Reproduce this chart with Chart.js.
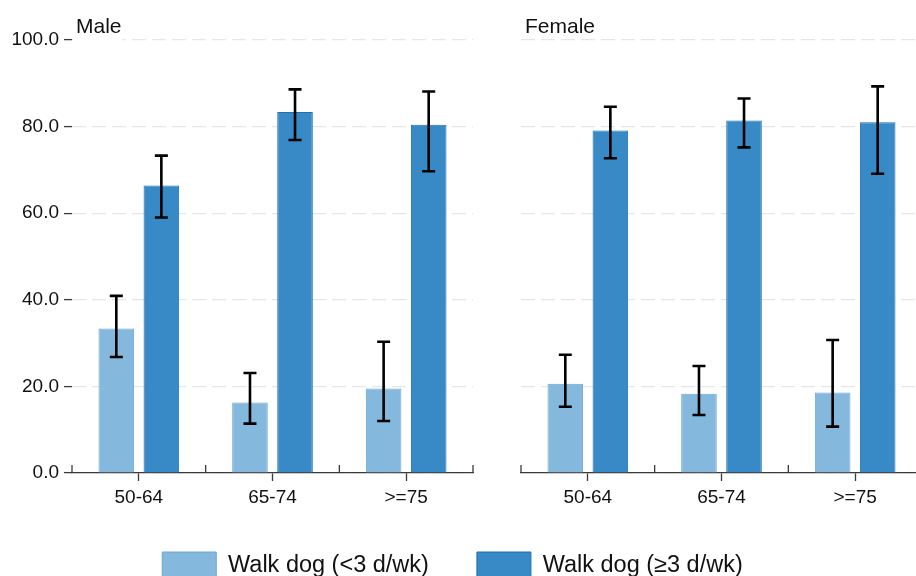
<!DOCTYPE html>
<html>
<head>
<meta charset="utf-8">
<title>Dog walking by age group and sex</title>
<script src="https://cdn.jsdelivr.net/npm/chart.js@4.4.1/dist/chart.umd.min.js"></script>
<style>
  html, body { margin: 0; padding: 0; background: #fff; overflow: hidden; width: 916px; height: 576px; }
  #wrap { position: relative; width: 916px; height: 576px; overflow: hidden; }
  canvas { position: absolute; top: 0; }
  #male { left: 0; }
  #female { left: 473px; }
</style>
</head>
<body>
<div id="wrap">
  <canvas id="male" width="905" height="590"></canvas>
  <canvas id="female" width="449" height="590"></canvas>
</div>
<script>
// Age groups shared by both panels
const ageGroups = ['50-64', '65-74', '>=75'];
const yTicks = [0, 20, 40, 60, 80, 100];
const seriesNames = ['Walk dog (<3 d/wk)', 'Walk dog (\u22653 d/wk)'];

// Male: percentages with 95% confidence limits
const maleLow      = [33.4, 16.3, 19.5];
const maleLowCiLo  = [26.8, 11.4, 12.0];
const maleLowCiHi  = [40.9, 23.1, 30.3];
const maleHigh     = [66.4, 83.4, 80.4];
const maleHighCiLo = [59.0, 76.9, 69.7];
const maleHighCiHi = [73.3, 88.6, 88.1];

// Female: percentages with 95% confidence limits
const femaleLow      = [20.6, 18.3, 18.6];
const femaleLowCiLo  = [15.3, 13.4, 10.7];
const femaleLowCiHi  = [27.3, 24.7, 30.7];
const femaleHigh     = [79.1, 81.4, 81.0];
const femaleHighCiLo = [72.7, 75.2, 69.1];
const femaleHighCiHi = [84.6, 86.5, 89.3];

const FONT = "'Liberation Sans', Arial, Helvetica, sans-serif";
const TEXT = '#111';
const AXIS = '#3a3a3a';
const LIGHT_FILL = '#85b8dd', LIGHT_EDGE = '#6aa7d6';
const DARK_FILL = '#378ac6', DARK_EDGE = '#1f6fb4';

// Whisker with caps for each bar, from the dataset's ciLow / ciHigh arrays
const errorBars = {
  id: 'errorBars',
  afterDatasetsDraw(chart) {
    const ctx = chart.ctx, y = chart.scales.y;
    ctx.save();
    ctx.strokeStyle = '#000';
    ctx.lineWidth = 2.6;
    chart.data.datasets.forEach((ds, i) => {
      chart.getDatasetMeta(i).data.forEach((bar, j) => {
        const top = y.getPixelForValue(ds.ciHigh[j]);
        const bot = y.getPixelForValue(ds.ciLow[j]);
        const x = bar.x, cap = 6.5;
        ctx.beginPath();
        ctx.moveTo(x, top); ctx.lineTo(x, bot);
        ctx.moveTo(x - cap, top); ctx.lineTo(x + cap, top);
        ctx.moveTo(x - cap, bot); ctx.lineTo(x + cap, bot);
        ctx.stroke();
      });
    });
    ctx.restore();
  }
};

// Inward ticks at category boundaries and the panel heading
const panelFrame = {
  id: 'panelFrame',
  afterDraw(chart, args, opts) {
    const ctx = chart.ctx, x = chart.scales.x, area = chart.chartArea;
    const n = x.ticks.length;
    const step = x.getPixelForValue(1) - x.getPixelForValue(0);
    ctx.save();
    ctx.strokeStyle = AXIS;
    ctx.lineWidth = 1.3;
    ctx.beginPath();
    for (let i = 0; i <= n; i++) {
      const px = x.getPixelForValue(Math.min(i, n - 1)) + (i < n ? -step / 2 : step / 2);
      ctx.moveTo(px, area.bottom);
      ctx.lineTo(px, area.bottom - 8);
    }
    ctx.stroke();

    ctx.font = '21px ' + FONT;
    ctx.textBaseline = 'alphabetic';
    ctx.textAlign = 'left';
    const tx = area.left + 4;
    if (opts.knockout) {
      const w = ctx.measureText(opts.text).width;
      ctx.fillStyle = '#fff';
      ctx.fillRect(area.left + 1, 10, w + 4, 32);
    }
    ctx.fillStyle = TEXT;
    ctx.fillText(opts.text, tx, 33);
    ctx.restore();
  }
};

function makeDatasets(low, lowLo, lowHi, high, highLo, highHi) {
  return [
    { label: seriesNames[0], data: low, ciLow: lowLo, ciHigh: lowHi,
      backgroundColor: LIGHT_FILL, borderColor: LIGHT_EDGE, borderWidth: 1 },
    { label: seriesNames[1], data: high, ciLow: highLo, ciHigh: highHi,
      backgroundColor: DARK_FILL, borderColor: DARK_EDGE, borderWidth: 1 }
  ];
}

function makeScales(showY, yWidth) {
  return {
    x: {
      type: 'category',
      offset: true,
      grid: { offset: false, drawOnChartArea: false, drawTicks: true, tickLength: 8,
              tickColor: AXIS, tickWidth: 1.3 },
      border: { display: true, color: AXIS, width: 1.3 },
      ticks: { color: TEXT, font: { family: FONT, size: 19 }, padding: 5, maxRotation: 0 },
      afterFit(s) { s.height = 31; }
    },
    y: {
      min: 0, max: 100,
      afterBuildTicks(s) { s.ticks = yTicks.map(v => ({ value: v })); },
      ticks: { display: showY, color: TEXT, font: { family: FONT, size: 19 }, padding: 5,
               callback: v => Number(v).toFixed(1) },
      grid: { color: '#e6e6e6', lineWidth: 1.2, drawTicks: showY, tickLength: 8,
              tickColor: AXIS, tickWidth: 1.3 },
      border: { display: false, dash: [14, 6] },
      afterFit(s) { s.width = yWidth; }
    }
  };
}

const baseOptions = {
  responsive: false,
  animation: false,
  datasets: { bar: { categoryPercentage: 0.674, barPercentage: 0.79 } }
};

// Male panel, which also carries the shared legend
new Chart(document.getElementById('male'), {
  type: 'bar',
  data: { labels: ageGroups,
          datasets: makeDatasets(maleLow, maleLowCiLo, maleLowCiHi, maleHigh, maleHighCiLo, maleHighCiHi) },
  options: Object.assign({}, baseOptions, {
    layout: { padding: { top: 40, left: 0, right: 0, bottom: 0 } },
    scales: Object.assign(makeScales(true, 72), {
      gutter: {
        type: 'linear', position: 'right', display: true,
        ticks: { display: false }, grid: { display: false }, border: { display: false },
        afterFit(s) { s.width = 432; }
      }
    }),
    plugins: {
      tooltip: { enabled: false },
      legend: {
        display: true, position: 'bottom', align: 'center',
        labels: { boxWidth: 54, boxHeight: 28, padding: 48, color: TEXT,
                  font: { family: FONT, size: 23.5 } }
      },
      panelFrame: { text: 'Male', knockout: true }
    }
  }),
  plugins: [errorBars, panelFrame]
});

// Female panel
new Chart(document.getElementById('female'), {
  type: 'bar',
  data: { labels: ageGroups,
          datasets: makeDatasets(femaleLow, femaleLowCiLo, femaleLowCiHi, femaleHigh, femaleHighCiLo, femaleHighCiHi) },
  options: Object.assign({}, baseOptions, {
    layout: { padding: { top: 40, left: 0, right: 0, bottom: 86 } },
    scales: makeScales(false, 48),
    plugins: {
      tooltip: { enabled: false },
      legend: { display: false },
      panelFrame: { text: 'Female', knockout: false }
    }
  }),
  plugins: [errorBars, panelFrame]
});
</script>
</body>
</html>
